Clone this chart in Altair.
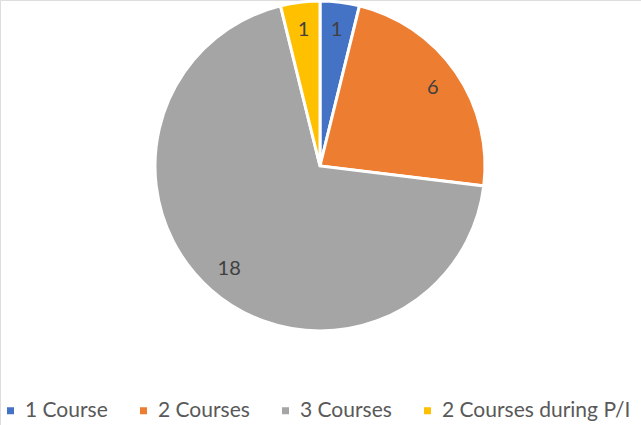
import altair as alt
import pandas as pd

categories = ["1 Course", "2 Courses", "3 Courses", "2 Courses during P/I"]
values = [1, 6, 18, 1]
colors = ["#4472C4", "#ED7D31", "#A5A5A5", "#FFC000"]

df = pd.DataFrame({"category": categories, "value": values, "order": list(range(len(values)))})

base = alt.Chart(df).encode(
    theta=alt.Theta("value:Q", stack=True),
    order=alt.Order("order:Q"),
)

pie = base.mark_arc(stroke="white", strokeWidth=3, outerRadius=165).encode(
    x=alt.value(320),
    y=alt.value(166),
    color=alt.Color(
        "category:N",
        sort=categories,
        scale=alt.Scale(domain=categories, range=colors),
        legend=alt.Legend(
            title=None,
            orient="none",
            direction="horizontal",
            columns=4,
            legendX=0,
            legendY=400,
            symbolType="square",
            symbolSize=49,
            symbolStrokeWidth=0,
            labelFont="Lato",
            labelFontSize=21,
            labelColor="#595959",
            columnPadding=25,
            labelOffset=4,
            labelLimit=400,
        ),
    ),
)

labels = base.mark_text(radius=137, font="Lato", fontSize=20, color="#404040").encode(
    x=alt.value(320),
    y=alt.value(166),
    text=alt.Text("value:Q"),
)

chart = (
    alt.layer(pie, labels)
    .properties(width=641, height=425, autosize=alt.AutoSizeParams(type="none"), padding=0)
    .configure_view(stroke=None)
    .configure(background="white")
)

chart.save("out.html", embed_options={"renderer": "svg", "actions": False})
